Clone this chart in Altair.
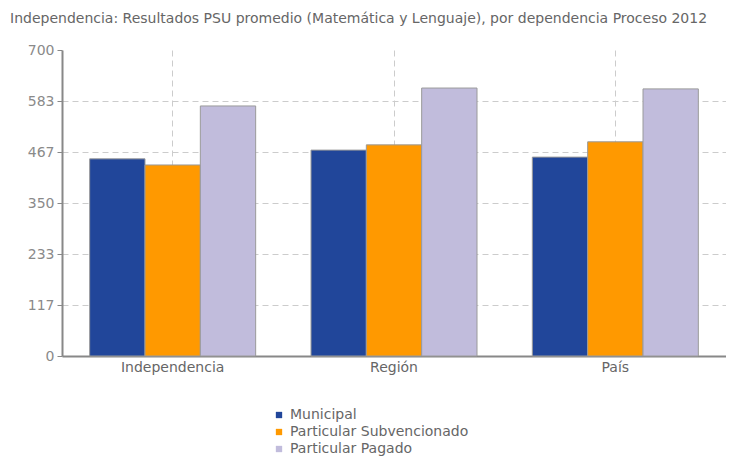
import altair as alt
import pandas as pd

categories = ["Independencia", "Región", "País"]
series = ["Municipal", "Particular Subvencionado", "Particular Pagado"]
municipal = [451, 471, 455]
subvencionado = [437, 483, 490]
pagado = [572, 613, 611]
colors = ["#21469A", "#FF9900", "#C1BCDC"]
tick_values = [0, 700/6, 1400/6, 350, 2800/6, 3500/6, 700]

rows = []
for i, c in enumerate(categories):
    for s, vals in zip(series, [municipal, subvencionado, pagado]):
        rows.append({"cat": c, "serie": s, "valor": vals[i]})
df = pd.DataFrame(rows)

FONT = "DejaVu Sans"

chart = alt.Chart(df).mark_bar(stroke="#9a9a9a", strokeWidth=1).encode(
    x=alt.X("cat:N", sort=categories, title=None,
            scale=alt.Scale(paddingInner=0.25, paddingOuter=0.125),
            axis=alt.Axis(labelAngle=0, grid=True, bandPosition=0.5, ticks=False,
                          gridDash=[6, 4], gridColor="#cccccc", domainColor="#888888",
                          domainWidth=2,
                          labelColor="#666666", labelFontSize=14, labelFont=FONT,
                          labelPadding=4)),
    xOffset=alt.XOffset("serie:N", sort=series),
    y=alt.Y("valor:Q", title=None,
            scale=alt.Scale(domain=[0, 700], nice=False),
            axis=alt.Axis(values=tick_values, format=".0f", grid=True,
                          gridDash=[6, 4], gridColor="#cccccc", domainColor="#888888",
                          gridOpacity={"condition": {"test": "datum.value >= 699", "value": 0}, "value": 1},
                          domainWidth=2,
                          tickColor="#888888", tickSize=5,
                          labelColor="#8a8a8a", labelFontSize=14, labelFont=FONT,
                          labelPadding=3)),
    color=alt.Color("serie:N", sort=series,
                    scale=alt.Scale(domain=series, range=colors),
                    legend=alt.Legend(title=None, orient="none", legendX=210, legendY=358,
                                      symbolType="square", symbolSize=40,
                                      symbolStrokeWidth=0, labelLimit=0,
                                      labelFont=FONT, labelFontSize=14, labelOffset=4,
                                      labelColor="#666666", rowPadding=3)),
).properties(
    width=664, height=306,
    title=alt.TitleParams(
        "Independencia: Resultados PSU promedio (Matemática y Lenguaje), por dependencia Proceso 2012",
        anchor="start", frame="group", dx=-52, offset=17,
        font=FONT, fontSize=14, fontWeight="normal", color="#666666"),
    autosize="none",
    padding={"left": 54, "top": 42, "right": 0, "bottom": 104},
).configure_view(stroke=None)

chart.save("out.html", embed_options={"renderer": "svg", "actions": False})
